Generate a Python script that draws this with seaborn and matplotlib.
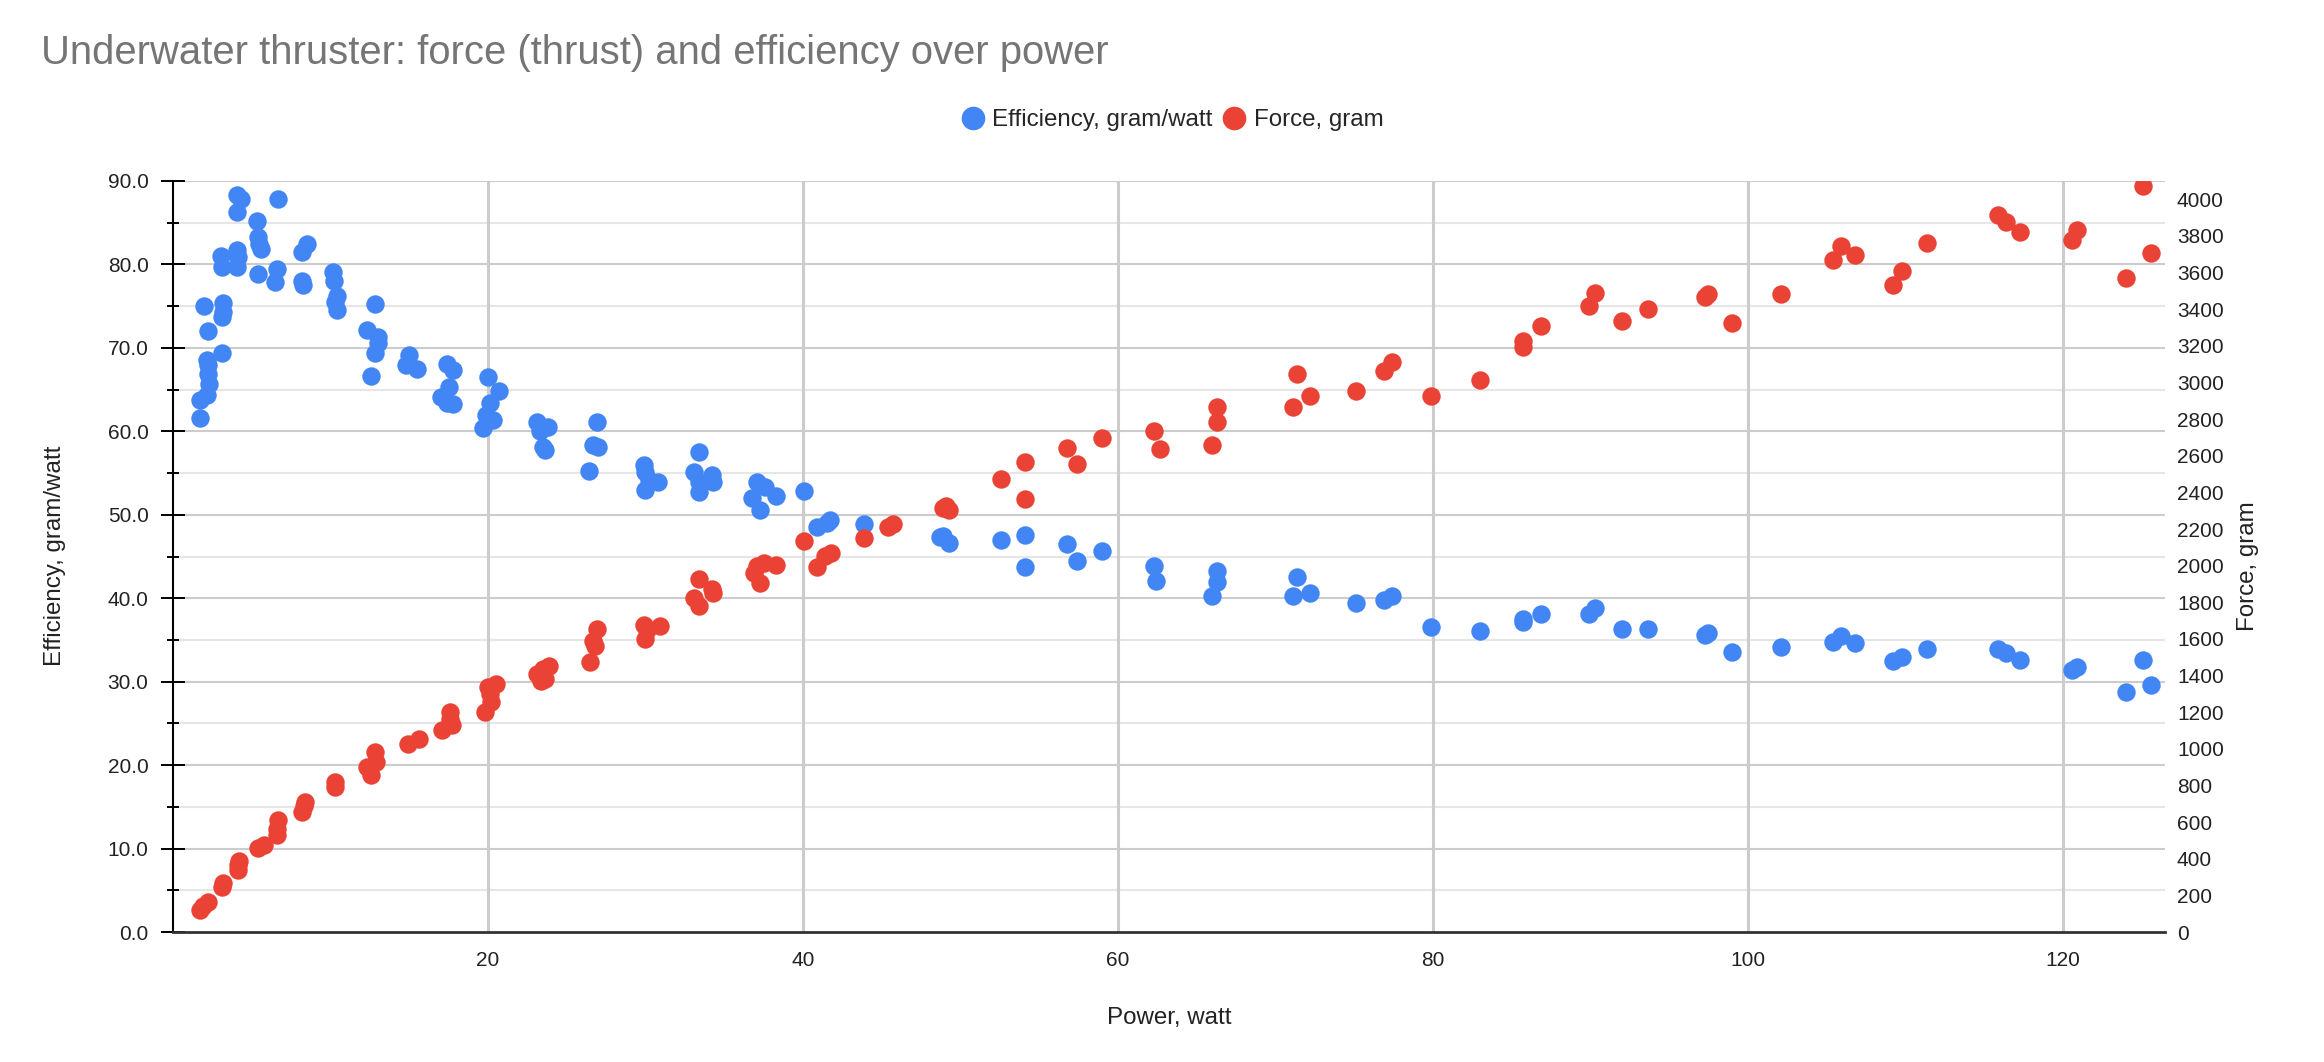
import matplotlib
matplotlib.use("Agg")
import matplotlib.pyplot as plt
from matplotlib.lines import Line2D
from matplotlib.ticker import MultipleLocator, FixedLocator
import seaborn as sns
import pandas as pd

# ---------------- data ----------------
eff_power = [1.71, 1.71, 2.14, 2.3, 2.25, 2.14, 2.2, 3.09, 2.25, 1.97, 3.2, 3.2, 3.09,
             3.03, 3.09, 4.08, 4.15, 4.08, 4.08, 4.3, 4.08, 5.31, 5.4, 5.45, 5.57, 5.4,
             6.69, 6.58, 6.48, 8.17, 8.5, 8.28, 8.2, 10.18, 10.2, 10.4, 10.4, 10.3,
             12.8, 12.3, 13.0, 13.0, 12.8, 12.6, 15.0, 14.8, 15.5, 17.4, 17.8, 17.5,
             17.0, 17.4, 17.8, 20.0, 20.7, 20.1, 19.9, 20.3, 19.7,
             23.1, 23.8, 23.5, 23.3, 23.6, 26.9, 26.7, 27.0, 26.4, 29.9, 30.0, 30.8,
             30.0, 30.2, 33.4, 33.1, 33.4, 34.2, 34.3, 33.4, 37.1, 37.6, 36.8, 37.3,
             38.3, 40.1, 40.9, 41.5, 41.7,
             43.9, 48.9, 49.3, 48.7, 52.6, 54.1, 54.1, 56.8, 57.4, 59.0, 62.3, 62.4,
             66.3, 66.3, 66.0, 71.4, 71.1, 72.2, 75.1, 76.9, 77.4, 79.9, 83.0,
             85.7, 85.7, 86.9, 89.9, 90.3, 92.0, 93.7, 97.3, 97.5, 99.0, 102.1,
             105.4, 105.9, 106.8, 109.2, 109.8, 111.4, 115.9, 116.4, 117.3, 120.6,
             120.9, 124.0, 125.1, 125.6]
eff_values = [61.6, 63.7, 64.4, 65.7, 66.9, 68.5, 68.0, 69.4, 72.0, 75.0, 75.4, 74.3, 73.7,
              81.0, 79.7, 81.7, 80.9, 79.7, 88.3, 87.8, 86.3, 85.2, 83.3, 82.5, 81.8, 78.9,
              87.8, 79.5, 77.9, 81.5, 82.4, 77.5, 78.0, 79.1, 78.0, 76.2, 74.5, 75.5,
              75.3, 72.1, 71.3, 70.6, 69.4, 66.6, 69.1, 67.9, 67.5, 68.1, 67.3, 65.3,
              64.1, 63.4, 63.3, 66.5, 64.8, 63.4, 61.9, 61.4, 60.4,
              61.1, 60.5, 58.1, 60.0, 57.8, 61.1, 58.4, 58.1, 55.3, 56.0, 55.1, 53.9,
              53.0, 54.2, 57.5, 55.1, 53.9, 54.8, 53.9, 52.7, 53.9, 53.3, 52.0, 50.6,
              52.2, 52.9, 48.5, 49.0, 49.4,
              48.9, 47.4, 46.6, 47.3, 47.0, 47.6, 43.8, 46.5, 44.5, 45.7, 43.9, 42.1,
              43.3, 41.9, 40.3, 42.5, 40.3, 40.6, 39.4, 39.8, 40.3, 36.6, 36.1,
              37.5, 37.1, 38.1, 38.1, 38.8, 36.3, 36.3, 35.6, 35.8, 33.6, 34.2,
              34.8, 35.5, 34.6, 32.5, 32.9, 33.9, 33.9, 33.4, 32.6, 31.4,
              31.8, 28.8, 32.6, 29.6]

force_power = [1.71, 1.9, 2.24, 3.09, 3.2, 4.15, 4.1, 4.2, 5.42, 5.8, 6.69, 6.58, 6.6,
               8.38, 8.17, 8.3, 10.3, 10.3, 12.8, 12.9, 12.3, 12.6, 14.9, 15.6, 17.6,
               17.7, 17.1, 17.6, 20.0, 20.5, 19.8, 20.2, 20.1,
               23.5, 23.9, 23.1, 23.4, 23.6, 26.9, 26.8, 26.5, 26.7, 29.9, 30.9, 30.0,
               30.1, 33.4, 33.1, 33.4, 34.2, 34.3, 37.1, 37.5, 37.3, 38.3, 36.9, 40.1,
               40.9, 41.4, 41.8,
               43.9, 45.4, 45.7, 48.9, 49.3, 49.1, 52.6, 54.1, 54.1, 56.8, 57.4, 59.0,
               62.3, 62.7,
               66.3, 66.3, 66.0, 71.4, 72.2, 71.1, 75.1, 76.9, 77.4, 79.9, 83.0,
               85.7, 85.7, 86.9, 89.9, 90.3, 92.0, 93.7, 97.3, 97.5, 99.0, 102.1,
               105.4, 105.9, 106.8, 109.2, 109.8, 111.4, 115.9, 116.4, 117.3, 120.6,
               120.9, 124.0, 125.1, 125.6]
force_values = [120, 140, 165, 247, 270, 365, 340, 390, 456, 475, 611, 529, 560,
                711, 656, 690, 820, 790, 983, 929, 902, 856, 1029, 1056, 1202,
                1129, 1102, 1165, 1340, 1354, 1203, 1258, 1300,
                1437, 1450, 1409, 1368, 1380, 1656, 1560, 1472, 1590, 1678, 1670, 1601,
                1650, 1926, 1821, 1780, 1871, 1849, 2000, 2013, 1904, 2005, 1960, 2132,
                1992, 2055, 2070,
                2151, 2211, 2228, 2316, 2302, 2325, 2472, 2568, 2365, 2640, 2555, 2698,
                2736, 2637,
                2865, 2783, 2659, 3044, 2928, 2865, 2953, 3063, 3112, 2926, 3011,
                3228, 3195, 3310, 3420, 3489, 3338, 3401, 3464, 3483, 3324, 3483,
                3667, 3744, 3697, 3533, 3607, 3763, 3917, 3876, 3821, 3780,
                3835, 3571, 4074, 3708]

left_ticks = [0, 10, 20, 30, 40, 50, 60, 70, 80, 90]
right_ticks = list(range(0, 4001, 200))
x_ticks = [20, 40, 60, 80, 100, 120]

title = "Underwater thruster: force (thrust) and efficiency over power"
eff_label = "Efficiency, gram/watt"
force_label = "Force, gram"
x_label = "Power, watt"

BLUE = "#4285F4"
RED = "#EA4335"

# ---------------- figure ----------------
sns.set_theme(style="white")
plt.rcParams["font.family"] = ["Liberation Sans", "DejaVu Sans"]

DPI = 200
fig = plt.figure(figsize=(2324 / DPI, 1062 / DPI), dpi=DPI)
L, R, B, T = 173 / 2324, 2165 / 2324, 1 - 932 / 1062, 1 - 181 / 1062
ax = fig.add_axes([L, B, R - L, T - B])
ax2 = ax.twinx()

df_e = pd.DataFrame({"power": eff_power, "eff": eff_values})
df_f = pd.DataFrame({"power": force_power, "force": force_values})

ax.set_xlim(0, 126.5)
ax.set_ylim(0, 90)
ax2.set_ylim(0, 4100)

# grid (drawn on the lower axes)
for v in range(5, 90, 10):
    ax.axhline(v, color="#e6e6e6", lw=0.75, zorder=0)
for v in left_ticks[1:]:
    ax.axhline(v, color="#cccccc", lw=0.75, zorder=0)
for v in x_ticks:
    ax.axvline(v, color="#cccccc", lw=1.1, zorder=0)

ms = 44
sns.scatterplot(data=df_e, x="power", y="eff", ax=ax, color=BLUE, s=ms,
                linewidth=0, zorder=3, legend=False)
sns.scatterplot(data=df_f, x="power", y="force", ax=ax2, color=RED, s=ms,
                linewidth=0, zorder=3, legend=False)

ax.set_xlim(0, 126.5)
ax.set_ylim(0, 90)
ax2.set_ylim(0, 4100)

ax.yaxis.set_major_locator(FixedLocator(left_ticks))
ax.yaxis.set_minor_locator(MultipleLocator(5))
ax.xaxis.set_major_locator(FixedLocator(x_ticks))
ax2.yaxis.set_major_locator(FixedLocator(right_ticks))
ax.grid(False)
ax2.grid(False)

ax.set_yticklabels([f"{v:.1f}" for v in left_ticks])
ax.set_xticklabels([str(v) for v in x_ticks])
ax2.set_yticklabels([str(v) for v in right_ticks])

fs = 7.5
fs_lab = 8.7
ax.tick_params(axis="y", which="major", direction="inout", length=8.6, width=0.7,
               color="black", labelsize=fs, pad=4.5, labelcolor="#222222")
ax.tick_params(axis="y", which="minor", direction="inout", length=4.3, width=0.7,
               color="black", left=True)
ax.tick_params(axis="x", length=0, labelsize=fs, pad=7, labelcolor="#222222")
ax2.tick_params(axis="y", length=0, labelsize=fs, pad=4.3, labelcolor="#222222")

for a in (ax, ax2):
    for s in ("top", "right", "left", "bottom"):
        a.spines[s].set_visible(False)
ax.spines["left"].set_visible(True)
ax.spines["left"].set_color("black")
ax.spines["left"].set_linewidth(0.75)
ax.spines["bottom"].set_visible(True)
ax.spines["bottom"].set_color("#333333")
ax.spines["bottom"].set_linewidth(1.0)

ax.set_xlabel(x_label, fontsize=fs_lab, color="#222222", labelpad=13)
ax.set_ylabel("")
ax2.set_ylabel("")
fig.text(55 / 2324, 1 - 556 / 1062, eff_label, rotation=90, ha="center",
         va="center", fontsize=fs_lab, color="#222222")
fig.text(2248 / 2324, 1 - 566 / 1062, force_label, rotation=90, ha="center",
         va="center", fontsize=fs_lab, color="#222222")

fig.text(41 / 2324, 1 - 64 / 1062, title, fontsize=14.4, color="#757575",
         ha="left", va="baseline")

handles = [Line2D([0], [0], marker="o", linestyle="", markersize=8.5,
                  markerfacecolor=BLUE, markeredgewidth=0),
           Line2D([0], [0], marker="o", linestyle="", markersize=8.5,
                  markerfacecolor=RED, markeredgewidth=0)]
fig.legend(handles, [eff_label, force_label], loc="center",
           bbox_to_anchor=(1172 / 2324, 1 - 120 / 1062), ncol=2, frameon=False,
           fontsize=fs_lab, handletextpad=0.3, columnspacing=0.4, handlelength=1.0)

fig.savefig("out.png", dpi=DPI, facecolor="white")
